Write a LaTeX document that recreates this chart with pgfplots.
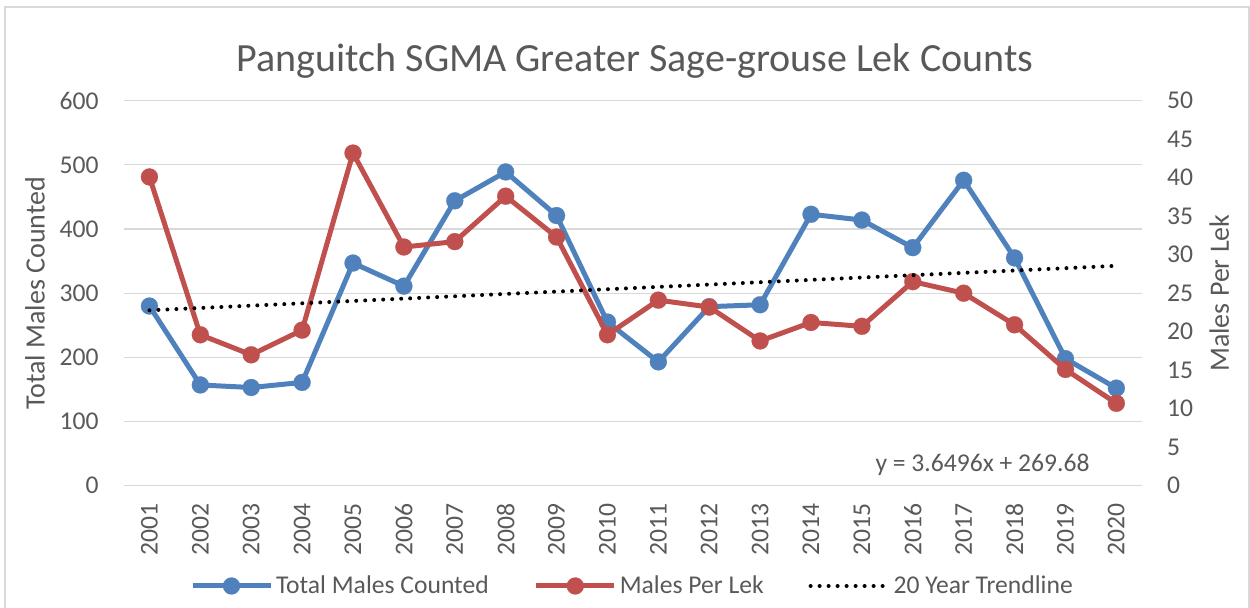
\documentclass[border=0pt]{standalone}
\usepackage{fontspec}
\setmainfont{Carlito}
\usepackage{pgfplots}
\pgfplotsset{compat=1.18}
\definecolor{txt}{HTML}{595959}
\definecolor{gridc}{HTML}{D9D9D9}
\definecolor{cblue}{HTML}{4F81BD}
\definecolor{cred}{HTML}{C0504D}
\definecolor{framec}{HTML}{D9D9D9}
\pgfplotsset{
  base/.style={
    scale only axis, width=508.9pt, height=192.5pt,
    at={(0pt,0pt)}, anchor=south west,
    xmin=2000.5, xmax=2020.5,
    axis line style={draw=none},
    major tick length=0pt, tick style={draw=none},
    /pgf/number format/assume math mode=true,
    /pgf/number format/1000 sep={},
    ticklabel style={font=\fontsize{12.8}{14}\selectfont, text=txt, inner sep=0pt},
    clip=false,
  },
  legend image code/.code={\draw[#1, mark repeat=2, mark phase=2] plot coordinates {(0pt,0pt) (19.5pt,0pt) (39pt,0pt)};},
}
\begin{document}
\begin{tikzpicture}
\useasboundingbox (-62pt,-60.65pt) rectangle (563pt,242.85pt);
\draw[framec, line width=0.75pt] (-59.5pt,-61pt) -- (-59.5pt,239.35pt) -- (562.4pt,239.35pt) -- (562.4pt,-61pt);
% left axis: total males
\begin{axis}[base,
  ymin=0, ymax=600, ytick={0,100,...,600},
  ymajorgrids, grid style={gridc, line width=0.6pt},
  xtick={2001,2002,...,2020},
  xticklabel style={rotate=90, anchor=east},
  xticklabel shift=8.65pt,
  yticklabel shift=12.5pt,
]
\addplot[cblue, line width=2.5pt, line join=round, mark=*, mark size=4.25pt, mark options={line width=0.1pt}] coordinates {
(2001,280) (2002,157) (2003,153) (2004,161) (2005,347) (2006,311) (2007,444) (2008,489) (2009,421) (2010,255)
(2011,193) (2012,279) (2013,282) (2014,423) (2015,414) (2016,371) (2017,476) (2018,355) (2019,198) (2020,152)
};
\end{axis}
% right axis: males per lek
\begin{axis}[base,
  ymin=0, ymax=50, ytick={0,5,...,50},
  axis y line*=right, hide x axis,
  yticklabel style={anchor=west},
  yticklabel shift=12.5pt,
]
\addplot[cred, line width=2.5pt, line join=round, mark=*, mark size=4.25pt, mark options={line width=0.1pt}] coordinates {
(2001,40.1) (2002,19.6) (2003,17.0) (2004,20.2) (2005,43.2) (2006,31.0) (2007,31.7) (2008,37.6) (2009,32.3) (2010,19.6)
(2011,24.1) (2012,23.2) (2013,18.8) (2014,21.2) (2015,20.7) (2016,26.5) (2017,25.0) (2018,20.9) (2019,15.1) (2020,10.7)
};
\end{axis}
% trendline + legend
\begin{axis}[base, hide axis,
  ymin=0, ymax=600,
  legend columns=3,
  legend style={at={(0.5,-0.2605)}, anchor=center, draw=none, fill=none,
    font=\fontsize{12.8}{14}\selectfont, text=txt,
    nodes={inner sep=1.5pt},
    /tikz/every even column/.append style={column sep=21pt}},
]
\addlegendimage{cblue, line width=2.5pt, mark=*, mark size=4.25pt, mark options={line width=0.1pt}}
\addlegendentry{Total Males Counted}
\addlegendimage{cred, line width=2.5pt, mark=*, mark size=4.25pt, mark options={line width=0.1pt}}
\addlegendentry{Males Per Lek}
\addplot[black, line width=2pt, line cap=round, dash pattern=on 0pt off 4.5pt] coordinates {(2001,273.33) (2020,342.67)};
\addlegendentry{20 Year Trendline}
\end{axis}
\node[anchor=base, font=\fontsize{20}{24}\selectfont, text=txt] at (255.5pt,207pt) {Panguitch SGMA Greater Sage-grouse Lek Counts};
\node[anchor=base, font=\fontsize{12.8}{14}\selectfont, text=txt] at (429.25pt,7pt) {y = 3.6496x + 269.68};
\node[rotate=90, anchor=center, font=\fontsize{14}{16}\selectfont, text=txt] at (-44.5pt,96.25pt) {Total Males Counted};
\node[rotate=90, anchor=center, font=\fontsize{14}{16}\selectfont, text=txt] at (547.6pt,96.25pt) {Males Per Lek};
\end{tikzpicture}
\end{document}
